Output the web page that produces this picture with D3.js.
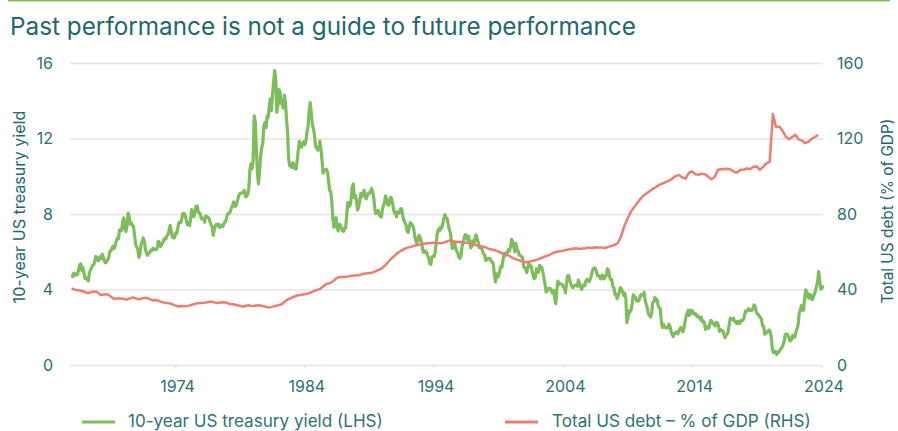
<!DOCTYPE html>
<html><head><meta charset="utf-8">
<script src="https://cdn.jsdelivr.net/npm/d3@7"></script>
<style>
body{margin:0;background:#fff;}
svg{display:block;}
text{font-family:Inter,"Noto Sans",sans-serif;}
</style>
</head><body>
<svg id="chart" width="898" height="431"></svg>
<script>
// ---------- DATA ----------
const chartTitle = "Past performance is not a guide to future performance";
const leftTitle = "10-year US treasury yield";
const rightTitle = "Total US debt (% of GDP)";
const legendLabels = ["10-year US treasury yield (LHS)", "Total US debt \u2013 % of GDP (RHS)"];
const yearTicks = [1974, 1984, 1994, 2004, 2014, 2024];
const leftTicks = [0, 4, 8, 12, 16];
const rightTicks = [0, 40, 80, 120, 160];

// 10-year US treasury yield, monthly, starting Jan 1966
const yieldStartYear = 1966;
const yieldValues = [
4.61,4.83,4.87,4.75,4.78,4.81,5.02,5.30,5.35,5.01,5.16,4.84,
4.58,4.63,4.54,4.45,4.85,5.02,5.16,5.28,5.30,5.48,5.75,5.70,
5.53,5.56,5.74,5.64,5.87,5.72,5.50,5.42,5.46,5.58,5.70,6.03,
6.04,6.19,6.30,6.17,6.32,6.57,6.72,6.69,7.16,7.10,7.14,7.65,
7.79,7.24,7.07,7.39,8.05,7.84,7.46,7.53,7.39,7.33,6.84,6.39,
6.24,6.11,5.70,5.83,6.39,6.52,6.73,6.58,6.14,5.93,5.81,5.93,
5.95,6.08,6.07,6.19,6.13,6.11,6.11,6.21,6.55,6.48,6.28,6.36,
6.46,6.64,6.71,6.67,6.85,6.90,7.13,7.40,7.09,6.79,6.73,6.74,
6.99,6.96,7.21,7.51,7.58,7.54,7.81,8.04,8.04,7.90,7.68,7.43,
7.50,7.39,7.73,8.23,8.06,7.86,8.06,8.40,8.43,8.14,8.05,8.00,
7.74,7.79,7.73,7.56,7.90,7.86,7.83,7.77,7.59,7.41,7.29,6.87,
7.21,7.39,7.46,7.37,7.46,7.28,7.33,7.40,7.34,7.52,7.58,7.69,
7.96,8.03,8.04,8.15,8.35,8.46,8.64,8.41,8.42,8.64,8.81,9.01,
9.10,9.10,9.12,9.18,9.25,8.91,8.95,9.03,9.33,10.30,10.65,10.39,
10.80,13.20,12.90,11.47,10.18,9.60,10.25,11.10,11.51,11.75,12.68,12.84,
12.57,13.19,13.12,13.68,14.10,13.47,14.28,14.94,15.60,15.15,13.39,13.72,
14.59,14.43,13.86,13.87,13.62,14.30,13.95,13.06,12.34,10.91,10.55,10.54,
10.46,10.72,10.51,10.40,10.38,10.85,11.38,11.85,11.65,11.54,11.69,11.83,
11.67,11.84,12.32,12.63,13.41,13.90,13.36,12.72,12.52,12.16,11.57,11.50,
11.38,11.51,11.86,11.43,10.85,10.16,10.31,10.33,10.37,10.24,9.78,9.26,
9.19,8.70,7.78,7.30,7.71,7.80,7.30,7.10,7.45,7.43,7.25,7.11,
7.08,7.25,7.25,8.02,8.61,8.40,8.45,8.76,9.42,9.60,8.86,8.99,
8.67,8.21,8.37,8.72,9.09,8.92,9.06,9.26,8.98,8.80,8.96,9.11,
9.09,9.17,9.36,9.18,8.86,8.28,8.02,8.11,8.19,8.01,7.87,7.84,
8.21,8.47,8.59,8.95,8.76,8.48,8.47,8.75,8.89,8.72,8.39,8.08,
8.09,7.85,8.11,8.04,8.07,8.28,8.27,7.90,7.65,7.53,7.42,7.09,
7.03,7.34,7.54,7.48,7.39,7.26,6.84,6.59,6.42,6.59,6.87,6.77,
6.60,6.26,5.98,5.97,6.04,5.96,5.81,5.68,5.36,5.33,5.72,5.77,
5.75,5.97,6.48,6.97,7.18,7.10,7.30,7.24,7.46,7.74,7.96,7.81,
7.78,7.47,7.20,7.06,6.63,6.17,6.28,6.49,6.20,6.04,5.93,5.71,
5.65,5.81,6.27,6.51,6.74,6.91,6.87,6.64,6.83,6.53,6.20,6.30,
6.58,6.42,6.69,6.89,6.71,6.49,6.22,6.30,6.21,6.03,5.88,5.81,
5.54,5.57,5.65,5.64,5.65,5.50,5.46,5.34,4.81,4.40,4.83,4.65,
4.72,5.00,5.23,5.18,5.54,5.90,5.79,5.94,5.92,6.11,6.03,6.28,
6.66,6.52,6.26,5.99,6.44,6.10,6.05,5.83,5.80,5.74,5.72,5.24,
5.16,5.10,4.89,5.14,5.39,5.28,5.24,4.97,4.73,4.57,4.65,5.09,
5.04,4.91,5.28,5.21,5.16,4.93,4.65,4.26,3.87,3.94,4.05,4.03,
4.05,3.90,3.81,3.96,3.57,3.25,3.98,4.45,4.27,4.29,4.30,4.27,
4.15,4.08,3.83,4.35,4.72,4.73,4.50,4.28,4.13,4.10,4.19,4.23,
4.22,4.17,4.50,4.34,4.14,4.00,4.18,4.26,4.20,4.46,4.54,4.47,
4.42,4.57,4.72,4.99,5.11,5.15,5.09,4.88,4.72,4.73,4.60,4.56,
4.76,4.72,4.56,4.69,4.75,5.10,5.00,4.67,4.52,4.53,4.15,4.10,
3.74,3.74,3.51,3.68,3.88,4.10,4.01,3.89,3.69,3.81,3.53,2.25,
2.52,2.87,2.82,2.93,3.29,3.72,3.56,3.59,3.40,3.39,3.40,3.59,
3.73,3.69,3.73,3.85,3.42,3.20,3.01,2.70,2.65,2.54,2.76,3.29,
3.39,3.58,3.41,3.46,3.17,3.00,3.00,2.30,1.98,2.15,2.01,1.98,
1.97,1.97,2.17,2.05,1.80,1.62,1.50,1.68,1.72,1.75,1.65,1.72,
1.91,1.98,1.96,1.76,1.93,2.30,2.58,2.74,2.90,2.62,2.72,2.90,
2.86,2.71,2.72,2.71,2.56,2.60,2.54,2.42,2.53,2.30,2.33,2.21,
1.88,1.98,2.04,1.94,2.20,2.36,2.32,2.17,2.17,2.07,2.26,2.24,
2.09,1.78,1.89,1.81,1.81,1.64,1.45,1.56,1.63,1.76,2.14,2.49,
2.43,2.42,2.48,2.30,2.30,2.19,2.32,2.21,2.20,2.36,2.35,2.40,
2.58,2.86,2.84,2.87,2.98,2.91,2.89,2.89,3.00,3.18,3.12,2.83,
2.71,2.68,2.57,2.53,2.40,2.07,2.06,1.63,1.70,1.71,1.81,1.86,
1.76,1.50,0.87,0.66,0.67,0.73,0.55,0.65,0.68,0.79,0.87,0.93,
1.08,1.26,1.61,1.64,1.62,1.52,1.32,1.28,1.37,1.58,1.56,1.47,
1.76,1.93,2.13,2.75,2.90,3.14,2.90,2.90,3.52,3.98,3.89,3.62,
3.53,3.75,3.66,3.46,3.57,3.75,3.90,4.17,4.38,4.95,4.50,4.02,
4.06,4.21
];

// Total US debt as % of GDP, quarterly, starting Q1 1966
const debtStartYear = 1966;
const debtValues = [
40.6,39.9,39.6,39.3,
38.8,38.0,38.6,38.9,
38.6,37.1,37.4,37.5,
36.4,35.1,35.2,35.3,
35.1,34.6,35.3,35.8,
35.2,34.8,35.4,35.6,
35.1,34.2,34.4,34.0,
33.3,32.8,32.8,32.3,
31.6,31.0,31.2,31.1,
31.3,31.8,32.3,32.7,
32.9,33.0,33.3,33.6,
33.3,32.8,33.1,33.2,
33.0,32.2,32.2,31.8,
31.4,30.9,31.4,31.6,
31.2,31.5,31.6,31.3,
30.9,30.4,30.8,31.3,
31.7,32.2,33.6,34.8,
35.6,36.3,37.0,37.1,
37.5,37.8,38.4,39.2,
39.8,40.5,41.9,43.0,
43.4,44.5,46.0,46.6,
46.6,46.7,47.1,47.3,
47.5,47.6,48.2,48.5,
48.7,48.9,49.6,50.4,
51.2,52.8,54.6,56.5,
58.0,59.5,60.6,61.5,
62.2,62.6,63.2,63.4,
63.9,64.3,64.5,64.6,
64.8,64.6,64.5,64.8,
65.4,65.9,65.6,65.2,
65.3,64.9,64.8,64.6,
64.2,63.5,63.1,62.8,
62.4,61.6,61.2,60.8,
60.2,59.3,58.8,58.2,
57.2,56.3,55.7,55.2,
54.5,54.4,54.8,55.3,
55.8,56.4,57.2,57.8,
58.4,59.4,59.9,60.3,
60.5,60.9,61.3,61.6,
61.8,61.5,61.7,61.9,
62.2,62.0,62.4,62.3,
62.3,62.0,62.6,63.0,
63.6,64.5,68.0,73.5,
77.5,81.0,83.5,85.8,
88.0,89.8,91.0,92.3,
93.5,94.5,95.6,96.3,
97.0,97.8,98.9,100.2,
100.6,99.3,98.8,101.8,
102.6,101.0,100.8,101.4,
101.0,99.8,98.4,99.6,
103.4,103.7,103.9,104.0,
103.5,102.4,102.0,103.5,
103.6,104.1,103.8,105.0,
105.2,103.4,105.0,106.8,
107.6,133.0,126.0,126.3,
124.0,121.0,119.6,120.8,
121.9,119.4,119.0,117.5,
118.3,119.8,120.8,121.9
];

// ---------- CHART ----------
const teal = "#21686c";
const tickColor = "#2a6f73";
const green = "#7dbd5b";
const red = "#e87f70";
const gridColor = "#e4e4e4";

const svg = d3.select("#chart");

const x = d3.scaleTime()
  .domain([new Date(1965, 10, 15), new Date(2024, 1, 16)])
  .range([70, 823]);
const yL = d3.scaleLinear().domain([0, 16]).range([365, 63]);
const yR = d3.scaleLinear().domain([0, 160]).range([365, 63]);

const yieldData = yieldValues.map((v, i) => ({date: new Date(yieldStartYear, i, 15), v}));
const debtData = debtValues.map((v, i) => ({date: new Date(debtStartYear, i * 3, 1), v}));

function fitText(sel, target) {
  const node = sel.node();
  const fs = parseFloat(sel.attr("font-size"));
  const w = node.getComputedTextLength();
  if (w > 0) sel.attr("font-size", (fs * target / w).toFixed(2));
}

// top accent rule
svg.append("rect").attr("x", 8).attr("y", 0).attr("width", 882).attr("height", 1.5).attr("fill", "#7dc15a");

// title
const t = svg.append("text").attr("x", 10).attr("y", 35)
  .attr("font-size", 24).attr("fill", teal).text(chartTitle);
fitText(t, 626);

// left axis with gridlines
const gL = svg.append("g").attr("transform", "translate(70,0)")
  .call(d3.axisLeft(yL).tickValues(leftTicks).tickSize(-753).tickPadding(17).tickFormat(d3.format("d")));
gL.select(".domain").remove();
gL.selectAll(".tick line").attr("stroke", gridColor).attr("stroke-width", 1.5);
gL.selectAll(".tick text").attr("fill", tickColor).attr("font-size", 16)
  .attr("font-family", "Inter, 'Noto Sans', sans-serif");

// right axis
const gR = svg.append("g").attr("transform", "translate(823,0)")
  .call(d3.axisRight(yR).tickValues(rightTicks).tickSize(0).tickPadding(14).tickFormat(d3.format("d")));
gR.select(".domain").remove();
gR.selectAll(".tick text").attr("fill", tickColor).attr("font-size", 16)
  .attr("font-family", "Inter, 'Noto Sans', sans-serif");

// bottom axis
const gB = svg.append("g").attr("transform", "translate(0,365)")
  .call(d3.axisBottom(x).tickValues(yearTicks.map(y => new Date(y, 0, 1))).tickSize(3).tickPadding(13)
    .tickFormat(d3.timeFormat("%Y")));
gB.select(".domain").remove();
gB.selectAll(".tick line").attr("stroke", gridColor).attr("stroke-width", 1.5);
gB.selectAll(".tick text").attr("fill", tickColor).attr("font-size", 16).attr("dx", 2)
  .attr("font-family", "Inter, 'Noto Sans', sans-serif");

// axis titles
const lt = svg.append("text").attr("transform", "translate(25,207) rotate(-90)")
  .attr("text-anchor", "middle").attr("font-size", 16).attr("fill", teal).text(leftTitle);
fitText(lt, 193);
const rt = svg.append("text").attr("transform", "translate(893,211) rotate(-90)")
  .attr("text-anchor", "middle").attr("font-size", 16).attr("fill", teal).text(rightTitle);
fitText(rt, 185);

// lines
const lineL = d3.line().x(d => x(d.date)).y(d => yL(d.v));
const lineR = d3.line().x(d => x(d.date)).y(d => yR(d.v));
svg.append("path").datum(yieldData).attr("d", lineL)
  .attr("fill", "none").attr("stroke", green).attr("stroke-width", 3.2).attr("stroke-linejoin", "round");
svg.append("path").datum(debtData).attr("d", lineR)
  .attr("fill", "none").attr("stroke", red).attr("stroke-width", 2.5).attr("stroke-linejoin", "round");

// legend
const legendItems = [
  {label: legendLabels[0], color: green, x0: 82, tx: 128, w: 255},
  {label: legendLabels[1], color: red, x0: 505, tx: 552, w: 259}
];
legendItems.forEach(it => {
  svg.append("line").attr("x1", it.x0).attr("x2", it.x0 + 33).attr("y1", 422).attr("y2", 422)
    .attr("stroke", it.color).attr("stroke-width", 3);
  const lt2 = svg.append("text").attr("x", it.tx).attr("y", 427).attr("font-size", 16)
    .attr("fill", "#2c7477").text(it.label);
  fitText(lt2, it.w);
});
</script>
</body></html>
